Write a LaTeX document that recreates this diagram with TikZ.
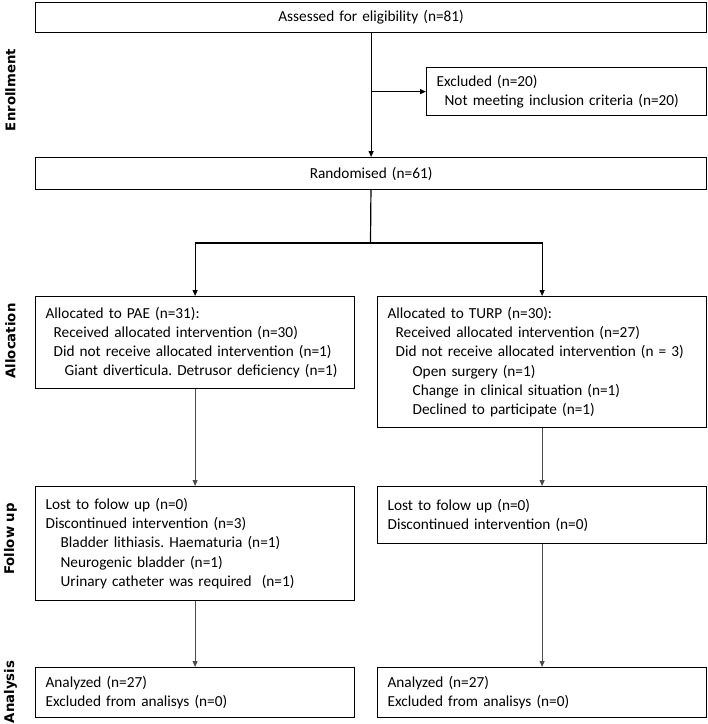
\documentclass[tikz,border=0pt]{standalone}
\usepackage{fontspec}
\setmainfont{Carlito}
\newfontfamily\phasefont{DejaVu Sans}
\usetikzlibrary{arrows.meta}

\begin{document}
\begin{tikzpicture}[x=1pt, y=-1pt, >={Triangle[length=6pt,width=5pt]},
	box/.style={draw=black, line width=1.2pt, rectangle, anchor=north west, align=left,
		inner xsep=10pt, inner ysep=0pt, font=\fontsize{15.3pt}{19.2pt}\selectfont\frenchspacing},
	phase/.style={rotate=90, font=\phasefont\bfseries\fontsize{13.3pt}{16pt}\selectfont},
	flow/.style={line width=1.2pt, black},
	thinflow/.style={line width=0.8pt, black!70}]

	\useasboundingbox (0,0) rectangle (708,724);

	\node[phase] (enrol) at (10.5, 90)  {Enrollment};
	\node[phase] (alloc) at (10.5, 341) {Allocation};
	\node[phase] (follow) at (10.5, 539) {Follow up};
	\node[phase] (anal) at (10.5, 692)  {Analysis};

	\node[box, align=center, text width=651pt, minimum height=30pt] (assess) at (35, 2)
		{Assessed for eligibility (n=81)};
	\node[box, text width=260pt, minimum height=48pt] (excl) at (426, 67)
		{Excluded (n=20)\\\hspace*{8pt}Not meeting inclusion criteria (n=20)};
	\node[box, align=center, text width=651pt, minimum height=32pt] (rand) at (35, 157)
		{Randomised (n=61)};

	\node[box, text width=299pt, minimum height=92pt] (pae) at (35, 296)
		{Allocated to PAE (n=31):\\
		\hspace*{8pt}Received allocated intervention (n=30)\\
		\hspace*{8pt}Did not receive allocated intervention (n=1)\\
		\hspace*{19pt}\mbox{Giant diverticula. Detrusor deficiency (n=1)}};
	\node[box, text width=309pt, minimum height=131pt] (turp) at (377, 296)
		{Allocated to TURP (n=30):\\
		\hspace*{8pt}Received allocated intervention (n=27)\\
		\hspace*{8pt}Did not receive allocated intervention (n = 3)\\
		\hspace*{25pt}Open surgery (n=1)\\
		\hspace*{25pt}Change in clinical situation (n=1)\\
		\hspace*{25pt}Declined to participate (n=1)};

	\node[box, text width=299pt, minimum height=114pt] (paefol) at (35, 486)
		{Lost to folow up (n=0)\\
		Discontinued intervention (n=3)\\
		\hspace*{15pt}Bladder lithiasis. Haematuria (n=1)\\
		\hspace*{15pt}Neurogenic bladder (n=1)\\
		\hspace*{15pt}Urinary catheter was required~ (n=1)};
	\node[box, text width=309pt, minimum height=57pt] (turpfol) at (377, 486)
		{Lost to folow up (n=0)\\
		Discontinued intervention (n=0)};

	\node[box, text width=299pt, minimum height=50pt] (paeana) at (35, 667)
		{Analyzed (n=27)\\
		Excluded from analisys (n=0)};
	\node[box, text width=309pt, minimum height=50pt] (turpana) at (377, 667)
		{Analyzed (n=27)\\
		Excluded from analisys (n=0)};

	\coordinate (split) at (370.5, 243);

	\draw[->, flow] (assess) -- (rand);
	\draw[->, flow] (assess.south |- excl.west) -- (excl.west);
	\draw[flow] (rand) -- (split);
	\draw[->, flow] (split) -| (pae);
	\draw[->, flow] (split) -| (turp);

	\draw[->, thinflow] (pae) -- (paefol);
	\draw[->, thinflow] (turp) -- (turpfol);
	\draw[->, thinflow] (paefol) -- (paeana);
	\draw[->, thinflow] (turpfol) -- (turpana);

\end{tikzpicture}
\end{document}
